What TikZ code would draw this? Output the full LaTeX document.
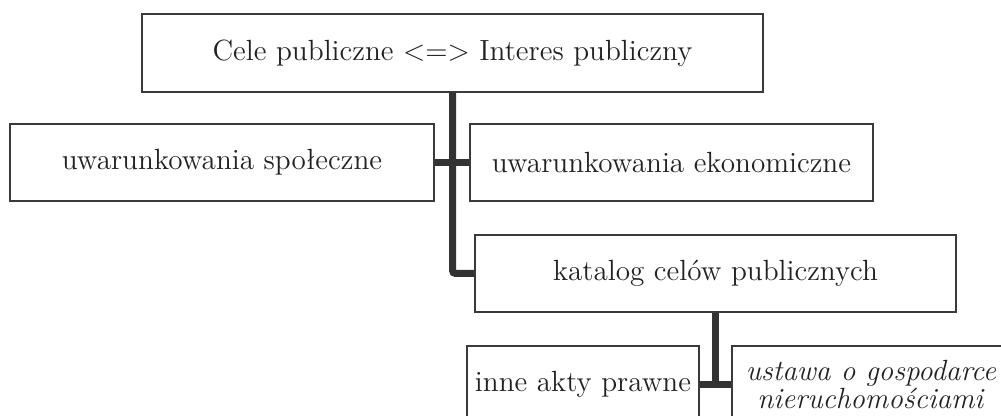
\documentclass[tikz,border=0pt]{standalone}
\usepackage{fontspec}
\definecolor{boxgray}{HTML}{3A3A3A}
\definecolor{linegray}{HTML}{333333}
\definecolor{textgray}{HTML}{222222}
\tikzset{
   box/.style={draw=boxgray, line width=0.75pt, fill=white, inner sep=0pt,
      text=textgray, align=center, font=\fontsize{14.6}{14}\selectfont},
   link/.style={draw=linegray, line width=3.5pt}
}
\begin{document}
\begin{tikzpicture}[x=0.5pt, y=-0.5pt]
   \clip (0,0) rectangle (1001,416);
   \def \Boxes {
      top/452.5/53/310.5pt/39pt/{Cele publiczne <=> Interes publiczny},
      spol/222/162.5/212pt/38.5pt/{uwarunkowania społeczne},
      ekon/671.5/162.5/201.5pt/38.5pt/{uwarunkowania ekonomiczne},
      kat/715.5/273.5/240.5pt/38.5pt/{katalog celów publicznych},
      inne/583/384.5/116pt/38.5pt/{inne akty prawne},
      ustawa/871/384.5/139pt/38.5pt/{\textit{ustawa o gospodarce}\\ \textit{nieruchomościami}}}
   \foreach \n / \x / \y / \w / \h / \t in \Boxes {
      \node[box, minimum width=\w, minimum height=\h] (\n) at (\x, \y) {\t};
   }
   \path[link, rounded corners=1.5pt] (top.south) |- (kat.west);
   \path[link] (spol.east) -- (ekon.west);
   \path[link] (inne.east) -- (ustawa.west);
   \path[link] (kat.south) -- (kat.south |- inne.east);
\end{tikzpicture}
\end{document}
